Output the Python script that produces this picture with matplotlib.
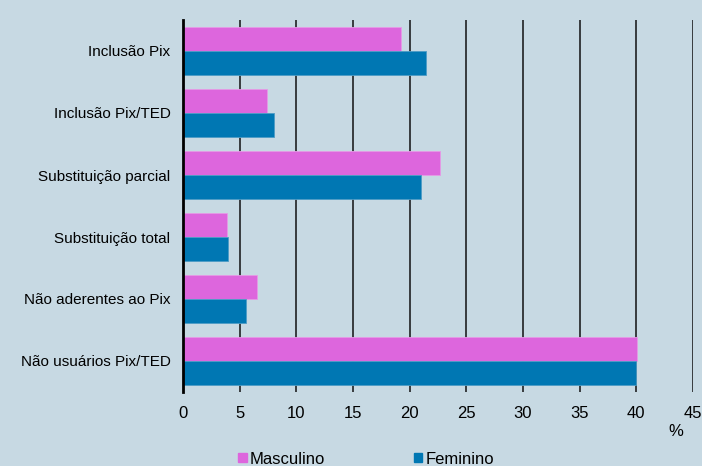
import numpy as np
import matplotlib
matplotlib.use("Agg")
import matplotlib.pyplot as plt
from matplotlib.patches import Patch

categorias = ["Inclusão Pix", "Inclusão Pix/TED", "Substituição parcial",
              "Substituição total", "Não aderentes ao Pix", "Não usuários Pix/TED"]
masculino = [19.2, 7.4, 22.7, 3.9, 6.5, 40.1]
feminino = [21.4, 8.0, 21.0, 4.0, 5.6, 40.0]
xticks = [0, 5, 10, 15, 20, 25, 30, 35, 40, 45]

bg = "#c7d9e3"
cor_m = "#dd66dd"
cor_f = "#0077b3"

plt.rcParams["font.family"] = ["Liberation Sans", "DejaVu Sans"]
plt.rcParams["font.size"] = 11

fig = plt.figure(figsize=(7.02, 4.66), dpi=100, facecolor=bg)
ax = fig.add_axes([183 / 702, 1 - 392 / 466, (693 - 183) / 702, (392 - 20) / 466])
ax.set_facecolor(bg)

y = np.arange(len(categorias))
h = 0.387
ax.barh(y - h / 2, masculino, height=h, color=cor_m, edgecolor="#e69ae6", lw=0.6, zorder=3)
ax.barh(y + h / 2, feminino, height=h, color=cor_f, edgecolor="#4d9cc6", lw=0.6, zorder=3)

ax.set_ylim(len(categorias) - 0.5, -0.5)
ax.set_xlim(0, 45)
ax.set_yticks(y)
ax.set_yticklabels(categorias)
ax.set_xticks(xticks)
ax.tick_params(axis="both", length=0)
ax.tick_params(axis="y", pad=9)
ax.tick_params(axis="x", pad=10, labelsize=12)
ax.grid(axis="x", color="#111111", lw=1.1, zorder=1)

for s in ["top", "right", "bottom"]:
    ax.spines[s].set_visible(False)
ax.spines["left"].set_linewidth(2)
ax.spines["left"].set_zorder(4)

fig.text(676 / 702, 1 - 432 / 466, "%", ha="center", va="center", fontsize=12)

handles = [Patch(color=cor_m, label="Masculino"), Patch(color=cor_f, label="Feminino")]
fig.legend(handles=handles, loc="center", bbox_to_anchor=(366 / 702, 1 - 459 / 466),
           ncol=2, frameon=False, fontsize=12, handlelength=0.5, handleheight=0.5,
           handletextpad=0.2, columnspacing=5.3, borderpad=0)

fig.savefig("out.png", dpi=100, facecolor=bg)
